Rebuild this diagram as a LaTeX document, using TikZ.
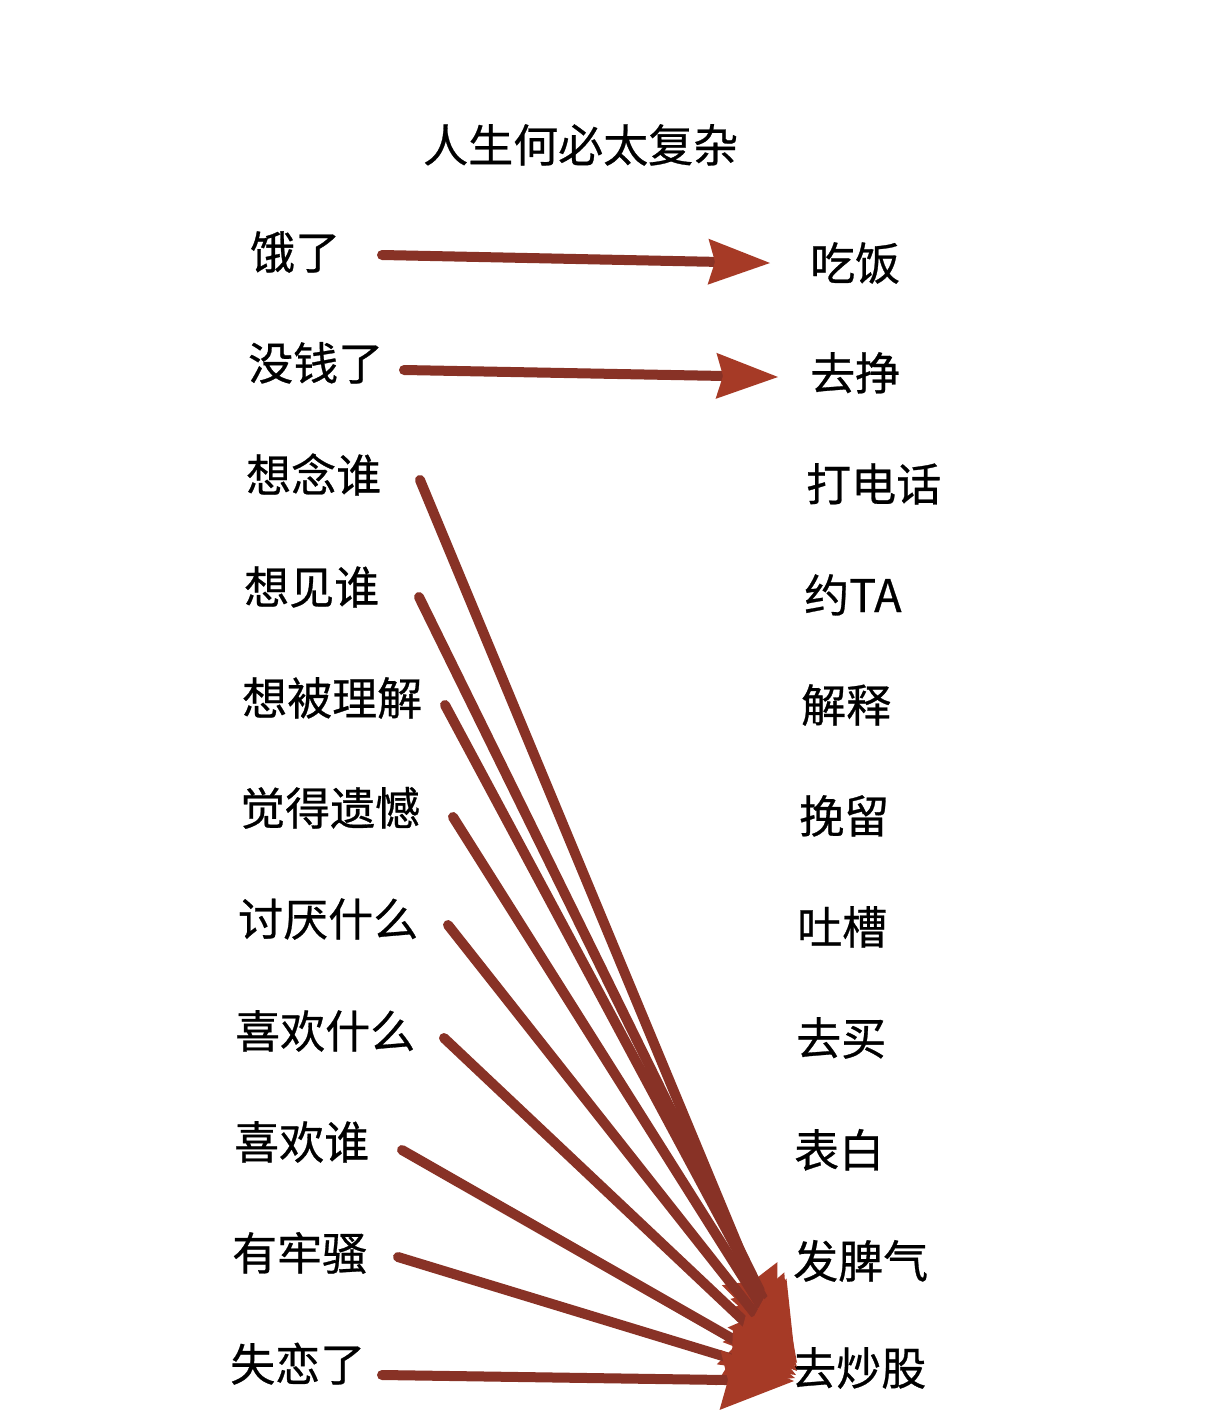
\documentclass[tikz,border=0pt]{standalone}
\usepackage{fontspec}
\setmainfont{Noto Sans CJK SC}[FakeBold=0.6]
\usetikzlibrary{arrows.meta}
\definecolor{shaftc}{RGB}{136,50,38}
\definecolor{headc}{RGB}{166,58,38}
\begin{document}
\begin{tikzpicture}[x=1pt,y=-1pt,
  lbl/.style={anchor=base west, inner sep=0pt, font=\fontsize{45}{45}\selectfont},
  arr/.style={draw=shaftc, line width=10pt, line cap=round,
    -{Stealth[length=62pt,width=46pt,inset=7pt,line width=0pt,fill=headc,color=headc]}},
  arrb/.style={draw=shaftc, line width=10pt, line cap=round,
    -{Stealth[length=74pt,width=60pt,inset=8pt,line width=0pt,fill=headc,color=headc]}}]
\useasboundingbox (0,0) rectangle (1206,1427);
\fill[white] (0,0) rectangle (1206,1427);

\node[lbl] (title) at (423,162) {人生何必太复杂};

% left labels
\node[lbl] (l1)  at (250,269)  {饿了};
\node[lbl] (l2)  at (248,380)  {没钱了};
\node[lbl] (l3)  at (246,492)  {想念谁};
\node[lbl] (l4)  at (244,604)  {想见谁};
\node[lbl] (l5)  at (242,715)  {想被理解};
\node[lbl] (l6)  at (240,825)  {觉得遗憾};
\node[lbl] (l7)  at (238,936)  {讨厌什么};
\node[lbl] (l8)  at (235,1048) {喜欢什么};
\node[lbl] (l9)  at (234,1159) {喜欢谁};
\node[lbl] (l10) at (232,1270) {有牢骚};
\node[lbl] (l11) at (230,1381) {失恋了};

% right labels
\node[lbl] (r1)  at (810,280)  {吃饭};
\node[lbl] (r2)  at (810,390)  {去挣};
\node[lbl] (r3)  at (806,501)  {打电话};
\node[lbl] (r4)  at (804,612)  {约TA};
\node[lbl] (r5)  at (801,722)  {解释};
\node[lbl] (r6)  at (799,833)  {挽留};
\node[lbl] (r7)  at (797,944)  {吐槽};
\node[lbl] (r8)  at (796,1055) {去买};
\node[lbl] (r9)  at (794,1167) {表白};
\node[lbl] (r10) at (793,1278) {发脾气};
\node[lbl] (r11) at (791,1385) {去炒股};

% arrow ends
\coordinate (s1) at (382,255);  \coordinate (t1) at (770,263);
\coordinate (s2) at (404,370);  \coordinate (t2) at (778,377);
\coordinate (s3) at (420,480);  \coordinate (t3) at (778,1342);
\coordinate (s4) at (419,597);  \coordinate (t4) at (790,1352);
\coordinate (s5) at (445,705);  \coordinate (t5) at (795,1358);
\coordinate (s6) at (453,817);  \coordinate (t6) at (797,1363);
\coordinate (s7) at (448,925);  \coordinate (t7) at (797,1367);
\coordinate (s8) at (444,1038); \coordinate (t8) at (797,1371);
\coordinate (s9) at (402,1150); \coordinate (t9) at (796,1375);
\coordinate (s10) at (398,1257); \coordinate (t10) at (795,1378);
\coordinate (s11) at (382,1375); \coordinate (t11) at (794,1381);

\draw[arr] (s1) -- (t1);
\draw[arr] (s2) -- (t2);
\foreach \i in {3,...,11} {\draw[arrb] (s\i) -- (t\i);}
\end{tikzpicture}
\end{document}
